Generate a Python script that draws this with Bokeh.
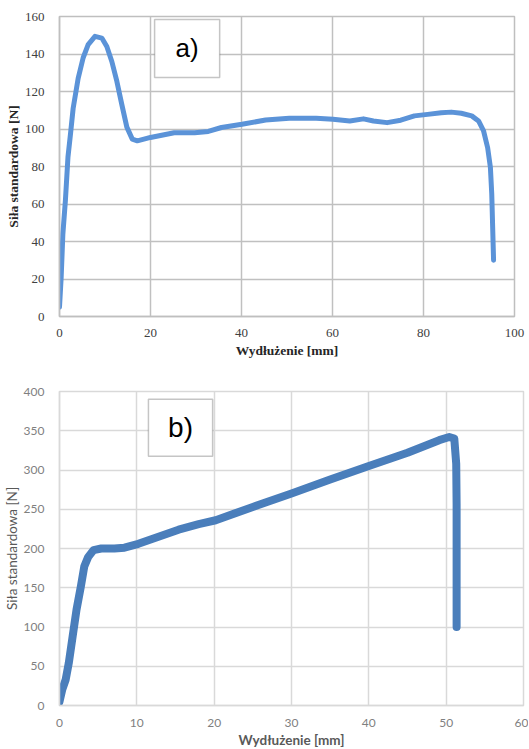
from bokeh.plotting import figure
from bokeh.layouts import column
from bokeh.models import BoxAnnotation, Label, FixedTicker
from bokeh.embed import file_html
from bokeh.resources import INLINE

# ---- data: chart a) ----
a_x = [0, 0.37, 0.74, 1.3, 1.86, 2.4, 3.0, 4.1, 5.2, 6.3, 7.8, 9.3, 10.4, 11.5, 12.6, 13.7,
       14.8, 16.0, 17.1, 20, 25.2, 29.7, 32.7, 35.6, 40.1, 45.3, 50.5, 56.4, 60.1, 63.8, 66.8,
       69, 72, 75, 78, 80.9, 83.9, 86.1, 88.3, 90.6, 92.1, 93.2, 94.1, 94.7, 95.0, 95.2, 95.4]
a_y = [5, 21, 44, 62, 85, 97, 111, 127, 138, 145, 149.4, 148.5, 144, 136, 125.5, 113,
       101, 94.6, 93.7, 95.5, 98, 98, 98.7, 100.8, 102.5, 104.8, 105.7, 105.7, 105.2, 104.3, 105.4,
       104.3, 103.4, 104.7, 107, 107.8, 108.7, 109, 108.4, 107, 104.3, 99, 90, 79.6, 65.4, 47.7, 30]
a_xticks = [0, 20, 40, 60, 80, 100]
a_yticks = [0, 20, 40, 60, 80, 100, 120, 140, 160]

# ---- data: chart b) ----
b_x = [0, 0.35, 0.8, 1.2, 1.7, 2.2, 2.75, 3.2, 3.7, 4.4, 5.4, 7.1, 8.4, 10.2, 12.8, 15.4,
       18, 20.2, 25, 30, 35, 40, 45, 49.1, 50.4, 51.05, 51.3, 51.35, 51.35, 51.35]
b_y = [5, 20, 33, 54, 88, 122, 151, 177, 189, 198, 200, 200, 201, 206, 215, 224,
       231, 236, 253, 270, 288, 305, 322, 338, 342, 340, 308, 257, 172, 100]
b_xticks = [0, 10, 20, 30, 40, 50, 60]
b_yticks = [0, 50, 100, 150, 200, 250, 300, 350, 400]

x_title = "Wydłużenie [mm]"
y_title = "Siła standardowa [N]"

# ---------------- figure a ----------------
p1 = figure(width=None, height=None, frame_width=455, frame_height=300,
            output_backend="svg", toolbar_location=None,
            x_range=(0, 100), y_range=(0, 160),
            min_border_left=56, min_border_right=13, min_border_top=16, min_border_bottom=52)
p1.outline_line_color = "#bfbfbf"
p1.outline_line_width = 1.5
for ax, ticks in ((p1.xaxis[0], a_xticks), (p1.yaxis[0], a_yticks)):
    ax.ticker = FixedTicker(ticks=ticks)
    ax.axis_line_color = "#bfbfbf"
    ax.axis_line_width = 1.5
    ax.major_tick_line_color = None
    ax.minor_tick_line_color = None
    ax.major_label_text_font = "Liberation Serif"
    ax.major_label_text_font_size = "13px"
    ax.major_label_text_color = "#404040"
    ax.axis_label_text_font = "Liberation Serif"
    ax.axis_label_text_font_size = "13.5px"
    ax.axis_label_text_font_style = "bold"
    ax.axis_label_text_color = "#262626"
p1.xaxis.axis_label = x_title
p1.yaxis.axis_label = y_title
p1.xaxis.major_label_standoff = 6
p1.yaxis.major_label_standoff = 9
p1.xaxis.axis_label_standoff = 3
p1.yaxis.axis_label_standoff = 1
p1.grid.grid_line_color = "#c0c0c0"
p1.grid.grid_line_width = 1.5
p1.xgrid.ticker = FixedTicker(ticks=a_xticks)
p1.ygrid.ticker = FixedTicker(ticks=a_yticks)

p1.line(a_x, a_y, line_color="#5b93d8", line_width=5, line_join="round", line_cap="round")
p1.add_layout(BoxAnnotation(left=20.9, right=35.2, bottom=127.5, top=158.4,
                            fill_color="white", fill_alpha=1.0,
                            line_color="#404040", line_width=1.5))
p1.add_layout(Label(x=28.05, y=143, text="a)", text_align="center", text_baseline="middle",
                    text_font="Liberation Sans", text_font_size="26px", text_color="black"))

# ---------------- figure b ----------------
p2 = figure(width=None, height=None, frame_width=464, frame_height=314,
            output_backend="svg", toolbar_location=None,
            x_range=(0, 60), y_range=(0, 400),
            min_border_left=55, min_border_right=5, min_border_top=23, min_border_bottom=44)
p2.outline_line_color = "#d9d9d9"
p2.outline_line_width = 1.5
for ax, ticks in ((p2.xaxis[0], b_xticks), (p2.yaxis[0], b_yticks)):
    ax.ticker = FixedTicker(ticks=ticks)
    ax.axis_line_color = "#d9d9d9"
    ax.axis_line_width = 1.5
    ax.major_tick_line_color = None
    ax.minor_tick_line_color = None
    ax.major_label_text_font = "Lato"
    ax.major_label_text_font_size = "12px"
    ax.major_label_text_color = "#7f7f7f"
    ax.axis_label_text_font = "Lato"
    ax.axis_label_text_font_size = "13.5px"
    ax.axis_label_text_font_style = "normal"
    ax.axis_label_text_color = "#595959"
p2.xaxis.axis_label = x_title
p2.yaxis.axis_label = y_title
p2.xaxis.axis_label_text_font_style = "bold"
p2.xaxis.major_label_standoff = 7
p2.yaxis.major_label_standoff = 9
p2.xaxis.axis_label_standoff = 2
p2.yaxis.axis_label_standoff = 1
p2.grid.grid_line_color = "#d9d9d9"
p2.grid.grid_line_width = 1.5
p2.xgrid.ticker = FixedTicker(ticks=b_xticks)
p2.ygrid.ticker = FixedTicker(ticks=b_yticks)

p2.line(b_x, b_y, line_color="#4a7ebb", line_width=8, line_join="round", line_cap="round")
p2.add_layout(BoxAnnotation(left=11.5, right=19.8, bottom=317.6, top=390,
                            fill_color="white", fill_alpha=1.0,
                            line_color="#404040", line_width=1.5))
p2.add_layout(Label(x=15.65, y=354, text="b)", text_align="center", text_baseline="middle",
                    text_font="Liberation Sans", text_font_size="28px", text_color="black"))

layout = column(p1, p2, spacing=0)
open("out.html", "w").write(file_html(layout, INLINE))
